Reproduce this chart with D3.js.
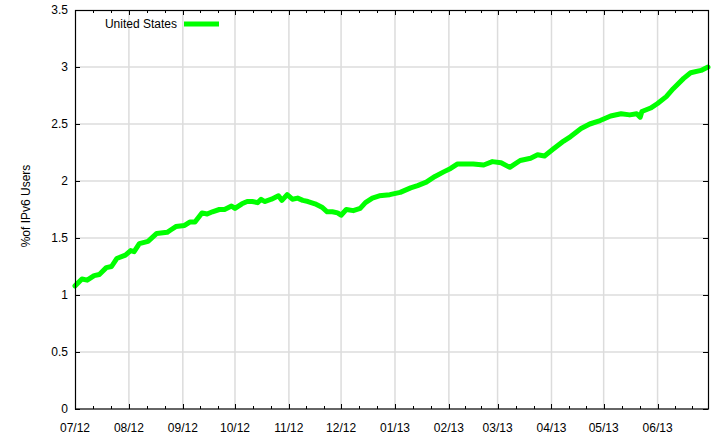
<!DOCTYPE html>
<html>
<head>
<meta charset="utf-8">
<script src="https://cdn.jsdelivr.net/npm/d3@7/dist/d3.min.js"></script>
<style>
  body { margin: 0; background: #fff; }
  text { font-family: "Liberation Sans", Arial, sans-serif; font-size: 12px; fill: #000; }
</style>
</head>
<body>
<svg width="714" height="437"></svg>
<script>
(function (d3) {
    'use strict';

    const seriesName = 'United States';
    const yTitle = '%of IPv6 Users';
    const yTicks = [0, 0.5, 1, 1.5, 2, 2.5, 3, 3.5];

    const dates = [
        '2012-07-01', '2012-07-05', '2012-07-08', '2012-07-12', '2012-07-15', '2012-07-19',
        '2012-07-22', '2012-07-25', '2012-07-30', '2012-08-02', '2012-08-04', '2012-08-07',
        '2012-08-12', '2012-08-17', '2012-08-23', '2012-08-25', '2012-08-28', '2012-09-02',
        '2012-09-05', '2012-09-08', '2012-09-12', '2012-09-15', '2012-09-18', '2012-09-22',
        '2012-09-25', '2012-09-29', '2012-10-01', '2012-10-05', '2012-10-08', '2012-10-11',
        '2012-10-14', '2012-10-16', '2012-10-18', '2012-10-22', '2012-10-26', '2012-10-28',
        '2012-10-31', '2012-11-03', '2012-11-06', '2012-11-09', '2012-11-12', '2012-11-16',
        '2012-11-20', '2012-11-23', '2012-11-26', '2012-11-29', '2012-12-01', '2012-12-04',
        '2012-12-08', '2012-12-12', '2012-12-15', '2012-12-19', '2012-12-23', '2012-12-29',
        '2013-01-04', '2013-01-10', '2013-01-14', '2013-01-19', '2013-01-24', '2013-01-29',
        '2013-02-02', '2013-02-06', '2013-02-11', '2013-02-15', '2013-02-21', '2013-02-26',
        '2013-03-03', '2013-03-08', '2013-03-14', '2013-03-20', '2013-03-24', '2013-03-28',
        '2013-04-02', '2013-04-08', '2013-04-12', '2013-04-18', '2013-04-23', '2013-04-29',
        '2013-05-05', '2013-05-11', '2013-05-16', '2013-05-20', '2013-05-22', '2013-05-23',
        '2013-05-28', '2013-06-01', '2013-06-06', '2013-06-10', '2013-06-16', '2013-06-20',
        '2013-06-26', '2013-06-30'
    ];

    const usShare = [
        1.08, 1.14, 1.13, 1.17, 1.18, 1.24,
        1.25, 1.32, 1.35, 1.39, 1.38, 1.45,
        1.47, 1.54, 1.55, 1.57, 1.60, 1.61,
        1.64, 1.64, 1.72, 1.71, 1.73, 1.75,
        1.75, 1.78, 1.76, 1.80, 1.82, 1.82,
        1.81, 1.84, 1.82, 1.84, 1.87, 1.83,
        1.88, 1.84, 1.85, 1.83, 1.82, 1.80,
        1.77, 1.73, 1.73, 1.72, 1.70, 1.75,
        1.74, 1.76, 1.81, 1.85, 1.87, 1.88,
        1.90, 1.94, 1.96, 1.99, 2.04, 2.08,
        2.11, 2.15, 2.15, 2.15, 2.14, 2.17,
        2.16, 2.12, 2.18, 2.20, 2.23, 2.22,
        2.28, 2.35, 2.39, 2.46, 2.50, 2.53,
        2.57, 2.59, 2.58, 2.59, 2.56, 2.61,
        2.64, 2.68, 2.74, 2.81, 2.90, 2.95,
        2.97, 3.00
    ];

    const parseDate = d3.utcParse('%Y-%m-%d');
    const data = dates.map((d, i) => ({ date: parseDate(d), value: usShare[i] }));

    const svg = d3.select('svg');
    const margin = { left: 75, right: 6, top: 10, bottom: 28 };
    const width = 714 - margin.left - margin.right;
    const height = 437 - margin.top - margin.bottom;

    const xScale = d3.scaleUtc()
        .domain([parseDate('2012-07-01'), parseDate('2013-06-30')])
        .range([0, width]);

    const yScale = d3.scaleLinear()
        .domain([0, 3.5])
        .range([height, 0]);

    const g = svg.append('g')
        .attr('transform', `translate(${margin.left},${margin.top})`);

    const months = d3.utcMonth.range(parseDate('2012-07-01'), parseDate('2013-07-01'));
    const minorTicks = [];
    months.forEach(m => {
        const next = d3.utcMonth.offset(m, 1);
        [1, 2].forEach(k => {
            const t = new Date(+m + (next - m) * k / 3);
            if (t <= xScale.domain()[1]) minorTicks.push(t);
        });
    });

    // grid
    g.append('g').selectAll('line').data(months.slice(1))
        .enter().append('line')
        .attr('x1', d => xScale(d)).attr('x2', d => xScale(d))
        .attr('y1', 0).attr('y2', height)
        .attr('stroke', '#dcdcdc').attr('stroke-width', 1.5);

    g.append('g').selectAll('line').data(yTicks.slice(1, -1))
        .enter().append('line')
        .attr('x1', 0).attr('x2', width)
        .attr('y1', d => yScale(d)).attr('y2', d => yScale(d))
        .attr('stroke', '#dcdcdc').attr('stroke-width', 1.5);

    // ticks (inward, mirrored)
    const tickG = g.append('g').attr('stroke', '#000').attr('stroke-width', 1);
    months.forEach(m => {
        const x = Math.round(xScale(m)) + 0.5;
        tickG.append('line').attr('x1', x).attr('x2', x).attr('y1', height).attr('y2', height - 5);
        tickG.append('line').attr('x1', x).attr('x2', x).attr('y1', 0).attr('y2', 5);
    });
    minorTicks.forEach(m => {
        const x = Math.round(xScale(m)) + 0.5;
        tickG.append('line').attr('x1', x).attr('x2', x).attr('y1', height).attr('y2', height - 3);
        tickG.append('line').attr('x1', x).attr('x2', x).attr('y1', 0).attr('y2', 3);
    });
    yTicks.forEach(v => {
        const y = Math.round(yScale(v)) + 0.5;
        tickG.append('line').attr('x1', 0).attr('x2', 5).attr('y1', y).attr('y2', y);
        tickG.append('line').attr('x1', width).attr('x2', width - 5).attr('y1', y).attr('y2', y);
    });

    // tick labels
    g.append('g').selectAll('text').data(yTicks)
        .enter().append('text')
        .attr('x', -7)
        .attr('y', d => yScale(d))
        .attr('dy', '0.35em')
        .attr('text-anchor', 'end')
        .text(d => d);

    g.append('g').selectAll('text').data(months)
        .enter().append('text')
        .attr('x', d => xScale(d))
        .attr('y', height + 23)
        .attr('text-anchor', 'middle')
        .text(d3.utcFormat('%m/%y'));

    // y title
    svg.append('text')
        .attr('transform', 'translate(30,206) rotate(-90)')
        .attr('text-anchor', 'middle')
        .text(yTitle);

    // line
    const line = d3.line()
        .x(d => xScale(d.date))
        .y(d => yScale(d.value));

    g.append('path')
        .datum(data)
        .attr('fill', 'none')
        .attr('stroke', '#00ff00')
        .attr('stroke-width', 5)
        .attr('stroke-linejoin', 'round')
        .attr('stroke-linecap', 'round')
        .attr('d', line);

    // frame
    g.append('rect')
        .attr('x', 0.5).attr('y', 0.5)
        .attr('width', width).attr('height', height - 0.5)
        .attr('fill', 'none')
        .attr('stroke', '#000')
        .attr('stroke-width', 1.2);

    // legend
    const legend = g.append('g').attr('transform', 'translate(0,14)');
    legend.append('text')
        .attr('x', 102)
        .attr('dy', '0.35em')
        .attr('text-anchor', 'end')
        .text(seriesName);
    legend.append('line')
        .attr('x1', 109).attr('x2', 144)
        .attr('stroke', '#00ff00')
        .attr('stroke-width', 5);

}(d3));
</script>
</body>
</html>
